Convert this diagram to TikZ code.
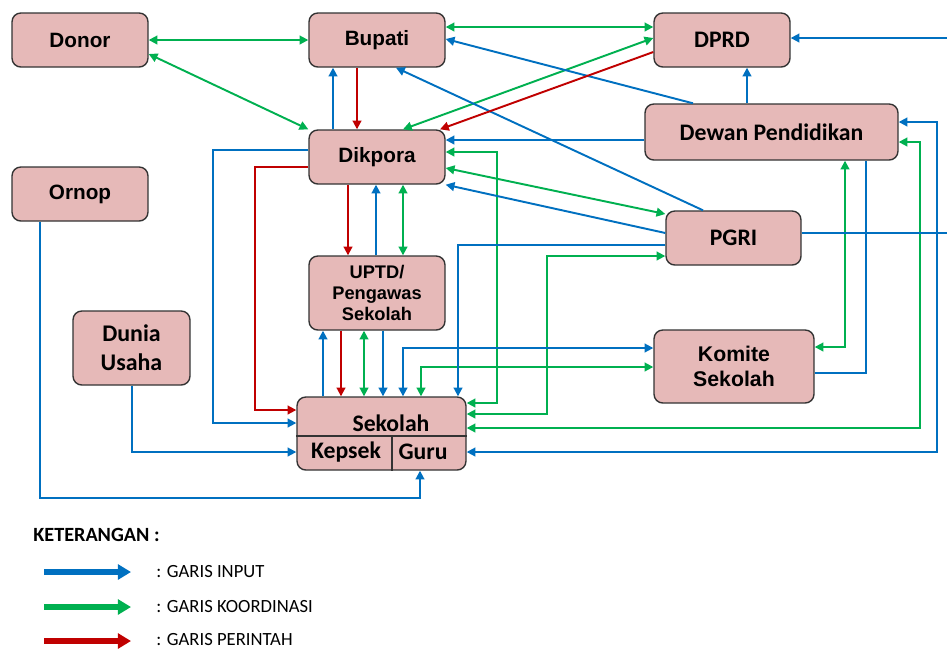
\documentclass[tikz,border=0pt]{standalone}
\usepackage{fontspec}
\setmainfont{Liberation Sans}
\newfontfamily\calibri{Carlito}
\usepackage{tikz}
\usetikzlibrary{arrows.meta, positioning, calc}
\definecolor{inblue}{RGB}{0,112,192}
\definecolor{kogreen}{RGB}{0,176,80}
\definecolor{pered}{RGB}{192,0,0}
\definecolor{boxpink}{RGB}{230,185,184}

\begin{document}
\begin{tikzpicture}[
    x=0.02cm, y=-0.02cm,
    box/.style={draw=black!80, fill=boxpink, rectangle, rounded corners=5pt, line width=0.8pt,
      align=center, inner sep=0pt, minimum width=2.72cm, minimum height=1.08cm,
      font=\fontsize{11.8}{14}\selectfont\bfseries},
    cbox/.style={box, font=\calibri\fontsize{13.5}{16}\selectfont\bfseries},
    lbl/.style={inner sep=0pt, font=\calibri\fontsize{13.5}{16}\selectfont\bfseries},
    inp/.style={draw=inblue, line width=1.1pt},
    koor/.style={draw=kogreen, line width=1.1pt},
    perin/.style={draw=pered, line width=1.1pt},
    legarrow/.style={line width=3.4pt, -{Triangle[length=7.5pt,width=8.5pt]}},
    legtext/.style={anchor=west, inner sep=0pt, font=\calibri\fontsize{10.6}{12}\selectfont},
    >={Triangle[length=5pt,width=5pt]}
  ]
  \useasboundingbox (0,0) rectangle (947,650);

  % top row
  \node[box] (Donor) at (80,40) {Donor};
  \node[box] (Bupati) at (377,40) {Bupati};
  \node[cbox] (DPRD) at (722,40) {DPRD};

  % Dikpora and Dewan Pendidikan
  \node[cbox, minimum width=5.06cm, minimum height=1.12cm] (Dewan) at (771.5,132) {Dewan Pendidikan};
  \node[box] (Dikpora) at (377,157) {Dikpora};
  \node[box] (Ornop) at (80,194) {Ornop};
  \node[cbox, minimum width=2.7cm] (PGRI) at (733.5,238) {PGRI};

  % UPTD, Dunia Usaha, Komite
  \node[box, minimum height=1.48cm, font=\fontsize{10.4}{12.2}\selectfont\bfseries] (UPTD) at (377,293) {UPTD/\\Pengawas\\Sekolah};
  \node[cbox, minimum width=2.34cm, minimum height=1.48cm, font=\calibri\fontsize{13.6}{16.4}\selectfont\bfseries] (Dunia) at (131.5,348) {Dunia\\Usaha};
  \node[box, minimum width=3.2cm, minimum height=1.46cm, font=\fontsize{12.1}{14.2}\selectfont\bfseries] (Komite) at (734,366.5) {Komite\\Sekolah};

  % Sekolah with Kepsek and Guru
  \node[box, minimum width=3.38cm, minimum height=1.46cm] (Sekolah) at (381.5,433.5) {};
  \draw[black!80, line width=0.8pt] (Sekolah.west |- 0,436) -- (Sekolah.east |- 0,436);
  \draw[black!80, line width=0.8pt] (392,436) -- (392,0 |- Sekolah.south);
  \node[lbl] (sektitle) at (391,423) {Sekolah};
  \node[lbl] (kepsek) at (346,452) {Kepsek};
  \node[lbl] (guru) at (423,452) {Guru};

  % Garis koordinasi
  \draw[koor, <->] (Donor.east) -- (Bupati.west);
  \draw[koor, <->] (Donor.east |- 0,54) -- (Dikpora.north west);
  \draw[koor, <->] (Bupati.east |- 0,27) -- (DPRD.west |- 0,27);
  \draw[koor, <->] (403,0 |- Dikpora.north) -- (DPRD.west |- 0,38);
  \draw[koor, <->] (Dikpora.east |- 0,152) -| (497,403) -- (Sekolah.east |- 0,403);
  \draw[koor, <->] (Dikpora.east |- 0,168) -- (PGRI.west |- 0,214);
  \draw[koor, <->] (PGRI.west |- 0,256) -| (547,414) -- (Sekolah.east |- 0,414);
  \draw[koor, <->] (403,0 |- Dikpora.south) -- (403,0 |- UPTD.north);
  \draw[koor, <->] (364,0 |- UPTD.south) -- (364,0 |- Sekolah.north);
  \draw[koor, <->] (Komite.west |- 0,367) -| (421,0 |- Sekolah.north);
  \draw[koor, <->] (845,0 |- Dewan.south) |- (Komite.east |- 0,347);
  \draw[koor, <->] (Dewan.east |- 0,142) -| (920,428) -- (Sekolah.east |- 0,428);

  % Garis input
  \draw[inp, <->] (Dewan.east |- 0,122) -| (937,452) -- (Sekolah.east |- 0,452);
  \draw[inp, ->] (333,0 |- Dikpora.north) -- (333,0 |- Bupati.south);
  \draw[inp, ->] (747,0 |- Dewan.north) -- (747,0 |- DPRD.south);
  \draw[inp, ->] (693,0 |- Dewan.north) -- (Bupati.east |- 0,39);
  \draw[inp, ->] (Dewan.west |- 0,140) -- (Dikpora.east |- 0,140);
  \draw[inp, ->] (703,0 |- PGRI.north) -- (396,0 |- Bupati.south);
  \draw[inp, ->] (PGRI.west |- 0,233) -- (Dikpora.south east);
  \draw[inp, ->] (PGRI.west |- 0,245) -| (458,0 |- Sekolah.north);
  \draw[inp, ->] (PGRI.east |- 0,233) -- (953,233) -- (953,38) -- (DPRD.east |- 0,38);
  \draw[inp, ->] (Dikpora.west |- 0,150) -| (213,423) -- (Sekolah.west |- 0,423);
  \draw[inp, ->] (376,0 |- UPTD.north) -- (376,0 |- Dikpora.south);
  \draw[inp, ->] (323,0 |- Sekolah.north) -- (323,0 |- UPTD.south);
  \draw[inp, ->] (383,0 |- UPTD.south) -- (383,0 |- Sekolah.north);
  \draw[inp, <->] (Komite.west |- 0,348) -| (403,0 |- Sekolah.north);
  \draw[inp] (Komite.east |- 0,373) -| (866,0 |- Dewan.south);
  \draw[inp, ->] (132,0 |- Dunia.south) |- (Sekolah.west |- 0,452);
  \draw[inp, ->] (40,0 |- Ornop.south) |- (420,498) -- (420,0 |- Sekolah.south);

  % Garis perintah
  \draw[perin, ->] (357,0 |- Bupati.south) -- (357,0 |- Dikpora.north);
  \draw[perin, ->] (DPRD.west |- 0,52) -- (440,0 |- Dikpora.north);
  \draw[perin, ->] (348,0 |- Dikpora.south) -- (348,0 |- UPTD.north);
  \draw[perin, ->] (341,0 |- UPTD.south) -- (341,0 |- Sekolah.north);
  \draw[perin, ->] (Dikpora.west |- 0,167) -| (255,410) -- (Sekolah.west |- 0,410);

  % Keterangan
  \node[legtext, font=\calibri\fontsize{11.5}{13}\selectfont\bfseries] (ket) at (33,535) {KETERANGAN :};
  \coordinate (inS) at (44,572);
  \coordinate (inE) at (131,572);
  \coordinate (koS) at (44,607);
  \coordinate (koE) at (131,607);
  \coordinate (peS) at (44,641);
  \coordinate (peE) at (131,641);
  \draw[legarrow, inblue] (inS) -- (inE);
  \draw[legarrow, kogreen] (koS) -- (koE);
  \draw[legarrow, pered] (peS) -- (peE);
  \node[legtext] (lgin) at (156,572) {: GARIS INPUT};
  \node[legtext] (lgko) at (156,607) {: GARIS KOORDINASI};
  \node[legtext] (lgpe) at (156,640) {: GARIS PERINTAH};
\end{tikzpicture}
\end{document}
